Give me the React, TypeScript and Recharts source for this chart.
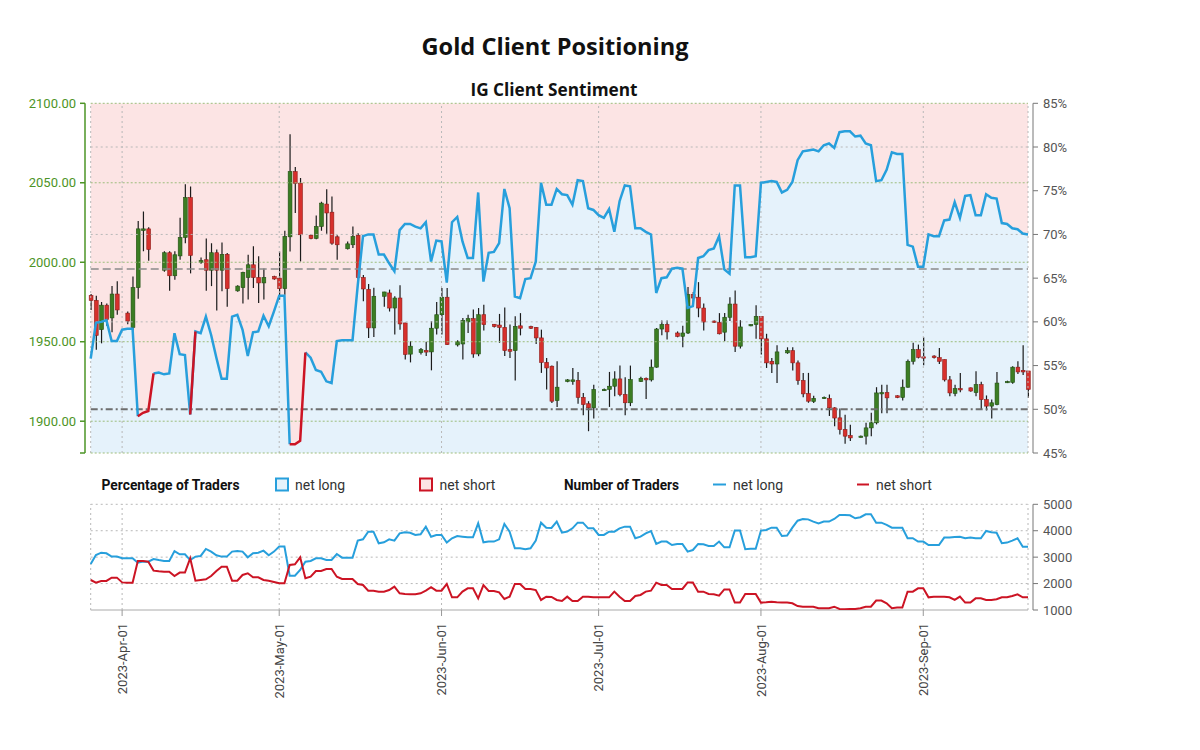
import React from 'react';
import { ComposedChart, Bar, Line, Area, XAxis, YAxis, ReferenceLine } from 'recharts';

// ---------- data (one entry per calendar day, 2023-03-26 .. 2023-09-21) ----------
const OPEN: (number | null)[] = [
  1979, 1976, 1957.6, 1973, 1965, 1980, null,
  1968, 1959, 1984, 2020, 2021, null, null,
  1995, 2006, 1991.5, 2004, 2015.6, 2040.7, null,
  2000, 2001.6, 1995, 2006, 1995, 2005, null,
  1982, 1984, 1990.4, 1998.4, 1990.4, 1987, null,
  1991, 1990, 1983.4, 2016, 2057, 2049.7, null,
  2017, 2015, 2022.5, 2036.6, 2031.5, 2016, null,
  2008.5, 2011, 2017, 1990.4, 1983, 1958.7, null,
  1978.6, 1980.7, 1971.2, 1977.5, 1961.8, 1942.2, null,
  1943.2, 1944.5, 1943.6, 1958.5, 1967, 1978, null,
  1948, 1948.6, 1962.5, 1964.5, 1942.3, 1967, null,
  1961, 1960.5, 1959, 1945, 1944.4, 1960, null,
  1959.5, 1959, 1952.4, 1937, 1934.6, 1913, null,
  1925, 1925, 1925.6, 1915, 1911, 1908.4, null,
  1919.5, 1920, 1922, 1926.6, 1916.8, 1911.6, null,
  1925, 1927, 1926, 1934, 1958, 1960.8, null,
  1955.5, 1953.4, 1955.5, 1979.6, 1978, 1971.2, null,
  1963, 1962.2, 1956, 1965.4, 1973.7, 1947.2, null,
  1960, 1960.8, 1966, 1951.8, 1937.7, 1936, null,
  1943, 1944.4, 1936.7, 1925.6, 1917.4, 1912.4, null,
  1914.5, 1914.3, 1908.4, 1902.1, 1894.8, 1891, null,
  1890, 1890.6, 1895.8, 1899, 1917.5, 1918, null,
  1916, 1914.9, 1921.4, 1937.7, 1945, 1940.5, null,
  1941, 1940, 1938.8, 1926, 1917.5, 1920.5, null,
  1921, 1918, 1923, 1913.6, 1909.5, 1910.5, null,
  1924.5, 1924.4, 1934, 1932, 1931.6,
];
const HIGH: (number | null)[] = [
  1980, 1979, 1975, 1974, 1985, 1988, null,
  1969, 1991, 2026, 2032, 2022, null, null,
  2007, 2007, 2007, 2028, 2049, 2047.7, null,
  2003, 2015, 2012, 2008, 2012.5, 2005.8, null,
  1985.5, 1994, 2004.7, 2010, 2003.7, 1996, null,
  1991.5, 2006.8, 2019.8, 2080.5, 2060, 2053, null,
  2017.5, 2029.4, 2038, 2046, 2041.4, 2017, null,
  2013, 2022.5, 2018.3, 1992, 1986.3, 1984, null,
  1981.5, 1982.8, 1978.6, 1985.5, 1962, 1950.3, null,
  1946, 1950, 1963, 1975, 1983.8, 1983.8, null,
  1951, 1965, 1967, 1970.2, 1971.2, 1973.3, null,
  1961.2, 1967.5, 1971.6, 1960.8, 1966, 1968, null,
  1960, 1959.3, 1957.6, 1939.8, 1935, 1937.7, null,
  1926.5, 1933.5, 1931, 1917.8, 1912.6, 1923, null,
  1920.5, 1931, 1931.5, 1935, 1927.7, 1935, null,
  1928, 1927.5, 1938.8, 1958.7, 1963.3, 1963.3, null,
  1956.5, 1960, 1984.4, 1981.3, 1987.5, 1974, null,
  1963.3, 1968, 1968, 1978, 1982.3, 1963.5, null,
  1961, 1973, 1966, 1955, 1939.8, 1947.8, null,
  1946.5, 1946.5, 1938.2, 1930.4, 1930.4, 1916, null,
  1915.5, 1916.8, 1908.8, 1908, 1904, 1897.7, null,
  1891, 1899, 1905.3, 1921.4, 1923, 1923, null,
  1916.3, 1926.2, 1938.8, 1949.3, 1948.2, 1952.8, null,
  1941.5, 1946, 1938.8, 1928.5, 1923, 1930.4, null,
  1921.2, 1931.4, 1924.8, 1916.2, 1913.6, 1931, null,
  1925.5, 1934.6, 1937.7, 1947.8, 1931.6,
];
const LOW: (number | null)[] = [
  1970, 1945, 1949, 1960, 1956, 1967, null,
  1961, 1957, 1977, 2007, 2001, null, null,
  1994, 1982, 1989, 2001.6, 2012, 1993, null,
  1999, 1982, 1985, 1969.6, 1981.7, 1972, null,
  1981.5, 1974, 1976.5, 1983.8, 1974.4, 1976.5, null,
  1989, 1976.5, 1979.5, 2006.8, 2031, 2000.5, null,
  2014.5, 2014.5, 2019.8, 2018, 2011, 2001.6, null,
  2008, 2009, 1989.3, 1975.4, 1952.4, 1953, null,
  1972, 1969, 1954.5, 1957.6, 1938.8, 1937, null,
  1942, 1941, 1932, 1954.5, 1954.5, 1948, null,
  1947, 1938.8, 1955.5, 1940, 1940.9, 1957, null,
  1959, 1949.3, 1941, 1939.8, 1925.6, 1954, null,
  1958, 1948.6, 1930.4, 1920, 1911.5, 1909, null,
  1924.5, 1923, 1911, 1903.8, 1893.7, 1901.7, null,
  1919, 1909, 1915.7, 1915.7, 1903.8, 1909.5, null,
  1924.6, 1914, 1925, 1933.6, 1954, 1951.4, null,
  1952.8, 1946.5, 1954.8, 1972.3, 1965.4, 1957, null,
  1962, 1954.6, 1950.3, 1963, 1943.6, 1945.8, null,
  1959.7, 1951.8, 1942, 1933.5, 1930.4, 1924, null,
  1942.4, 1931.9, 1923, 1915, 1911.6, 1911.5, null,
  1914, 1903.3, 1896.9, 1891.7, 1885.8, 1887.5, null,
  1889.7, 1885.4, 1890.6, 1898, 1905, 1905, null,
  1914.5, 1913, 1921, 1935.6, 1939.5, 1935.2, null,
  1939.5, 1936, 1925, 1915.7, 1915.7, 1918.2, null,
  1918.5, 1915.7, 1907.4, 1906.8, 1901.7, 1910, null,
  1924, 1923.6, 1929.7, 1929, 1914.7,
];
const CLOSE: (number | null)[] = [
  1976, 1954, 1973, 1964, 1980, 1970, null,
  1963, 1984, 2021, 2021, 2008, null, null,
  2006, 1991.5, 2004.7, 2015.6, 2040.7, 2004.3, null,
  2001, 1995, 2006, 1995, 2005, 1983.4, null,
  1985, 1993.6, 1998.4, 1990.4, 1987, 1990.4, null,
  1989.5, 1983.4, 2016.2, 2057, 2049.7, 2017.3, null,
  2015, 2022.5, 2037.2, 2031, 2012, 2011, null,
  2011.6, 2016.2, 1990.4, 1983.2, 1958.7, 1978.6, null,
  1981.3, 1971.2, 1977.5, 1961.2, 1942, 1947.2, null,
  1945, 1943.5, 1958.5, 1967, 1978, 1948.2, null,
  1950, 1963.3, 1964.5, 1942.3, 1967, 1960.8, null,
  1959.5, 1959, 1944.4, 1944, 1959.7, 1958.5, null,
  1958.5, 1952.4, 1937, 1933.5, 1912.6, 1921.4, null,
  1926, 1926, 1915, 1910.5, 1908.4, 1920, null,
  1920, 1922, 1926.6, 1916.8, 1911.6, 1926.2, null,
  1927, 1926, 1934, 1958, 1960.8, 1956.2, null,
  1953.4, 1955.5, 1979.6, 1977.5, 1971.2, 1962.4, null,
  1962.3, 1955, 1965.4, 1973.7, 1947.2, 1959.3, null,
  1960.8, 1966, 1951.8, 1936.7, 1936, 1943.6, null,
  1944.5, 1936.7, 1925.6, 1917.2, 1912.6, 1914.4, null,
  1915, 1908.4, 1902, 1894.8, 1890.6, 1889.5, null,
  1890.6, 1895.8, 1899, 1917.8, 1918, 1914.7, null,
  1914.9, 1921.4, 1937.7, 1945, 1940.2, 1940.3, null,
  1940, 1937.7, 1926, 1917.8, 1920.5, 1919.7, null,
  1919, 1923, 1913.6, 1909.5, 1911.6, 1924, null,
  1925, 1934, 1931, 1931, 1920,
];
// percentage of traders net long
const PCT: number[] = [
  55.8, 59.9, 60.0, 60.2, 57.8, 57.8, 59.1,
  59.2, 59.2, 49.2, 49.6, 49.8, 54.1, 54.2,
  54.0, 54.1, 58.7, 56.3, 56.2, 49.4, 58.9,
  58.7, 60.6, 58.5, 55.9, 53.5, 53.5, 60.6,
  60.8, 59.1, 56.1, 58.8, 58.9, 60.7, 59.5,
  61.2, 63.0, 63.0, 46.0, 46.0, 46.4, 56.5,
  55.9, 54.5, 54.3, 53.2, 53.0, 57.8, 57.9,
  57.9, 57.9, 64.2, 69.8, 70.0, 70.0, 67.7,
  67.7, 66.7, 65.8, 70.5, 71.2, 71.2, 70.9,
  70.7, 71.4, 66.9, 69.3, 69.2, 64.5, 71.4,
  72.0, 69.2, 67.3, 67.3, 74.8, 64.6, 67.9,
  68.0, 69.0, 75.2, 73.0, 62.9, 62.7, 64.9,
  65.0, 66.9, 75.9, 73.4, 73.4, 75.2, 74.6,
  74.5, 73.4, 76.2, 76.1, 73.0, 72.8, 72.2,
  71.9, 72.9, 70.3, 73.8, 75.6, 75.5, 70.7,
  70.7, 70.3, 70.0, 63.3, 65.0, 65.1, 66.1,
  66.2, 66.1, 61.6, 61.8, 67.3, 67.5, 68.2,
  68.4, 69.8, 66.0, 65.5, 75.6, 75.6, 67.4,
  67.4, 67.5, 75.9, 76.0, 76.1, 76.0, 74.8,
  75.1, 76.0, 78.5, 79.5, 79.6, 79.7, 79.5,
  80.2, 80.4, 79.9, 81.7, 81.8, 81.8, 81.2,
  81.3, 80.4, 80.2, 76.1, 76.2, 77.4, 79.4,
  79.2, 79.2, 68.8, 68.6, 66.3, 66.3, 70.0,
  69.8, 69.8, 71.6, 71.7, 73.7, 71.9, 74.4,
  74.5, 72.2, 72.2, 74.6, 74.2, 74.1, 71.3,
  71.2, 70.7, 70.6, 70.1, 70.0,
];
const NUM_LONG: number[] = [
  2740, 3080, 3170, 3145, 3020, 3020, 2960,
  2960, 2960, 2790, 2830, 2830, 2930, 2890,
  2855, 2855, 3230, 3110, 3110, 2890, 3020,
  3045, 3310, 3210, 3070, 3020, 3020, 3210,
  3230, 3210, 2995, 3145, 3170, 3245, 3070,
  3210, 3400, 3400, 2300, 2300, 2515, 2830,
  2855, 2955, 2955, 2895, 2895, 3120, 2980,
  2980, 2980, 3625, 3675, 3965, 3965, 3525,
  3560, 3675, 3625, 3900, 3940, 3925, 3840,
  3865, 4155, 3775, 3840, 3840, 3550, 3715,
  3800, 3775, 3750, 3750, 4280, 3560, 3590,
  3590, 3675, 4255, 3965, 3335, 3335, 3300,
  3335, 3625, 4305, 4115, 4105, 4345, 3930,
  3965, 4090, 4305, 4305, 4090, 4090, 3840,
  3840, 3965, 3965, 4090, 4155, 4155, 3715,
  3775, 3900, 3990, 3500, 3590, 3590, 3460,
  3500, 3500, 3210, 3270, 3500, 3485, 3425,
  3425, 3590, 3370, 3370, 4005, 4005, 3300,
  3320, 3320, 4005, 4030, 4115, 4115, 3800,
  3815, 4115, 4380, 4445, 4430, 4345, 4280,
  4345, 4345, 4445, 4595, 4595, 4585, 4470,
  4510, 4620, 4620, 4305, 4305, 4220, 4115,
  4115, 4115, 3715, 3715, 3590, 3590, 3460,
  3460, 3460, 3740, 3740, 3765, 3775, 3715,
  3740, 3715, 3715, 3990, 3940, 3925, 3525,
  3550, 3625, 3715, 3395, 3395,
];
const NUM_SHORT: number[] = [
  2135, 2035, 2100, 2100, 2225, 2225, 2045,
  2035, 2035, 2855, 2855, 2830, 2490, 2465,
  2450, 2450, 2285, 2415, 2415, 2955, 2110,
  2135, 2160, 2285, 2475, 2640, 2640, 2110,
  2110, 2325, 2390, 2235, 2235, 2135, 2110,
  2060, 2010, 2010, 2705, 2730, 2995, 2200,
  2260, 2475, 2475, 2550, 2550, 2260, 2175,
  2175, 2175, 1985, 1945, 1730, 1730, 1695,
  1695, 1755, 1885, 1630, 1605, 1595, 1595,
  1630, 1730, 1860, 1730, 1730, 1985, 1480,
  1480, 1695, 1820, 1820, 1440, 1945, 1720,
  1720, 1670, 1415, 1505, 1985, 1985, 1795,
  1795, 1755, 1380, 1505, 1495, 1380, 1340,
  1505, 1340, 1340, 1505, 1505, 1480, 1480,
  1480, 1480, 1695, 1505, 1340, 1340, 1530,
  1570, 1695, 1730, 2035, 1945, 1945, 1795,
  1795, 1795, 2045, 2045, 1695, 1695, 1605,
  1595, 1545, 1780, 1780, 1280, 1280, 1605,
  1605, 1605, 1280, 1290, 1315, 1290, 1280,
  1280, 1255, 1150, 1125, 1125, 1125, 1065,
  1065, 1065, 1125, 1040, 1025, 1040, 1040,
  1065, 1125, 1125, 1355, 1355, 1255, 1065,
  1090, 1090, 1695, 1695, 1820, 1820, 1480,
  1505, 1505, 1505, 1480, 1380, 1505, 1280,
  1280, 1440, 1440, 1380, 1380, 1405, 1480,
  1480, 1530, 1595, 1480, 1480,
];
const TICK_DAYS = [6, 36, 67, 97, 128, 159];
const TICK_LABELS = ['2023-Apr-01', '2023-May-01', '2023-Jun-01', '2023-Jul-01', '2023-Aug-01', '2023-Sep-01'];
const PRICE_TICKS = [1880, 1900, 1950, 2000, 2050, 2100];
const PRICE_GRID = [1900, 1950, 2000, 2050];
const PCT_TICKS = [45, 50, 55, 60, 65, 70, 75, 80, 85];
const PCT_GRID = [60, 70, 80];
const NUM_TICKS = [1000, 2000, 3000, 4000, 5000];
const NUM_GRID = [2000, 3000, 4000, 5000];
const PRICE_MIN = 1880, PRICE_MAX = 2100;
const PCT_MIN = 45, PCT_MAX = 85;
const NUM_MIN = 1000, NUM_MAX = 5000;
const SENTIMENT_NEUTRAL = 50;
const SENTIMENT_REF = 66.05;

// ---------- layout ----------
const LAST = PCT.length - 1;
const PLOT_L = 85, PLOT_R = 1033, DATA_L = 90.7, DATA_R = 1028;
const PX_PER_DAY = (DATA_R - DATA_L) / LAST;
const X_MIN = -(DATA_L - PLOT_L) / PX_PER_DAY;
const X_MAX = LAST + (PLOT_R - DATA_R) / PX_PER_DAY;

const BLUE = '#279fdc';
const RED = '#cc1424';
const PINK_BG = '#fce4e4';
const BLUE_BG = '#e5f2fb';
const GREEN_AXIS = '#4d9426';
const GREEN_GRID = '#9dbd7c';
const GREY_GRID = '#b8b8b8';
const C_UP = '#3b7d23', C_UP_EDGE = '#224f12';
const C_DN = '#d7302c', C_DN_EDGE = '#8e1b18';

const DATA = PCT.map((p, i) => ({
  day: i,
  open: OPEN[i],
  high: HIGH[i],
  low: LOW[i],
  close: CLOSE[i],
  range: HIGH[i] == null ? null : [LOW[i], HIGH[i]],
  pct: p,
  pctBand: [p, PCT_MAX],
  pctLong: p >= SENTIMENT_NEUTRAL || (i > 0 && PCT[i - 1] >= SENTIMENT_NEUTRAL) ? p : null,
  pctShort: p < SENTIMENT_NEUTRAL || (i > 0 && PCT[i - 1] < SENTIMENT_NEUTRAL) ? p : null,
  numLong: NUM_LONG[i],
  numShort: NUM_SHORT[i],
}));

const Candle = (props: any) => {
  const { x, y, width, height, payload } = props;
  if (!payload || payload.high == null || x == null || y == null) return null;
  const { open, close, high, low } = payload;
  const top = Math.min(y, y + height);
  const h = Math.abs(height);
  const span = high - low;
  const py = (v: number) => (span > 0 ? top + ((high - v) / span) * h : top);
  const cx = x + width / 2;
  const up = close >= open;
  const bTop = py(Math.max(open, close));
  const bBot = py(Math.min(open, close));
  const bh = Math.max(bBot - bTop, 1.3);
  return (
    <g>
      <line x1={cx} x2={cx} y1={top} y2={top + h} stroke="#1b1b1b" strokeWidth={1.2} />
      <rect x={cx - 1.9} y={bTop} width={3.8} height={bh} fill={up ? C_UP : C_DN} stroke={up ? C_UP_EDGE : C_DN_EDGE} strokeWidth={0.6} />
    </g>
  );
};

const MonthTick = (props: any) => {
  const { x, y, payload } = props;
  const idx = TICK_DAYS.indexOf(payload.value);
  return (
    <text x={0} y={0} dy="0.35em" textAnchor="end" fill="#444" fontSize={13} transform={`translate(${x},${y + 5}) rotate(-90)`}>
      {TICK_LABELS[idx]}
    </text>
  );
};

const hSeg = (axis: string, v: number, stroke: string, dash: string, key: string, width = 1) => (
  <ReferenceLine key={key} yAxisId={axis} segment={[{ x: 0, y: v }, { x: LAST, y: v }]} stroke={stroke} strokeDasharray={dash} strokeWidth={width} ifOverflow="visible" />
);
const vLine = (axis: string, d: number, key: string) => (
  <ReferenceLine key={key} yAxisId={axis} x={d} stroke={GREY_GRID} strokeDasharray="2 3" ifOverflow="visible" />
);

export default function App() {
  return (
    <div style={{ position: 'absolute', left: 0, top: 0, width: 1200, height: 750, fontFamily: 'Roboto, sans-serif', background: '#fff' }}>
      <div style={{ position: 'absolute', left: 0, top: 0 }}>
        <ComposedChart width={1200} height={470} data={DATA} margin={{ top: 103.3, right: 107, bottom: 17, left: 25 }}>
          <XAxis dataKey="day" type="number" domain={[X_MIN, X_MAX]} allowDataOverflow hide />
          <YAxis
            yAxisId="price"
            domain={[PRICE_MIN, PRICE_MAX]}
            ticks={PRICE_TICKS}
            interval={0}
            allowDataOverflow
            width={60}
            tickFormatter={(v: number) => (v === PRICE_MIN ? '' : v.toFixed(2))}
            axisLine={{ stroke: GREEN_AXIS, strokeWidth: 1.5 }}
            tickLine={{ stroke: GREEN_AXIS, strokeWidth: 1.5 }}
            tickSize={5}
            tickMargin={4}
            tick={{ fill: GREEN_AXIS, fontSize: 13 }}
          />
          <YAxis
            yAxisId="pct"
            orientation="right"
            domain={[PCT_MIN, PCT_MAX]}
            ticks={PCT_TICKS}
            interval={0}
            allowDataOverflow
            width={60}
            tickFormatter={(v: number) => `${v}%`}
            axisLine={{ stroke: '#777' }}
            tickLine={{ stroke: '#777' }}
            tickSize={5}
            tickMargin={5}
            tick={{ fill: '#555', fontSize: 13 }}
          />
          <Area yAxisId="pct" dataKey="pctBand" stroke="none" fill={PINK_BG} fillOpacity={1} isAnimationActive={false} />
          <Area yAxisId="pct" dataKey="pct" stroke="none" fill={BLUE_BG} fillOpacity={1} isAnimationActive={false} />
          {TICK_DAYS.map((d) => vLine('price', d, `v${d}`))}
          {vLine('price', 0, 'vl')}
          {vLine('price', LAST, 'vr')}
          {PCT_GRID.map((v) => hSeg('pct', v, GREY_GRID, '2 3', `pg${v}`))}
          {PRICE_GRID.map((v) => hSeg('price', v, GREEN_GRID, '2 2', `gg${v}`))}
          {hSeg('price', PRICE_MAX, GREEN_GRID, '2 2', 'gtop')}
          {hSeg('price', PRICE_MIN, GREEN_GRID, '2 2', 'gbot')}
          {hSeg('pct', SENTIMENT_REF, '#8a8a8a', '8 4', 'ref66', 1.4)}
          {hSeg('pct', SENTIMENT_NEUTRAL, '#6e6e6e', '7 3 2 3', 'ref50', 2)}
          <Line yAxisId="pct" dataKey="pctLong" stroke={BLUE} strokeWidth={2.5} dot={false} connectNulls={false} isAnimationActive={false} />
          <Line yAxisId="pct" dataKey="pctShort" stroke={RED} strokeWidth={2.5} dot={false} connectNulls={false} isAnimationActive={false} />
          <Bar yAxisId="price" dataKey="range" barSize={4} shape={(p: any) => <Candle {...p} />} isAnimationActive={false} />
        </ComposedChart>
      </div>

      <div style={{ position: 'absolute', left: 0, top: 470 }}>
        <ComposedChart width={1200} height={260} data={DATA} margin={{ top: 34.3, right: 107, bottom: 20, left: 85 }}>
          <XAxis
            dataKey="day"
            type="number"
            domain={[X_MIN, X_MAX]}
            allowDataOverflow
            ticks={TICK_DAYS}
            interval={0}
            height={100}
            axisLine={false}
            tickLine={{ stroke: '#999' }}
            tickSize={6}
            tick={(p: any) => <MonthTick {...p} />}
          />
          <YAxis
            yAxisId="num"
            orientation="right"
            domain={[NUM_MIN, NUM_MAX]}
            ticks={NUM_TICKS}
            interval={0}
            allowDataOverflow
            width={60}
            axisLine={{ stroke: '#777' }}
            tickLine={{ stroke: '#777' }}
            tickSize={5}
            tickMargin={5}
            tick={{ fill: '#555', fontSize: 13 }}
          />
          {TICK_DAYS.map((d) => vLine('num', d, `bv${d}`))}
          {vLine('num', 0, 'bvl')}
          {vLine('num', LAST, 'bvr')}
          {NUM_GRID.map((v) => hSeg('num', v, GREY_GRID, '2 3', `ng${v}`))}
          {hSeg('num', NUM_MIN, '#aaaaaa', '', 'nbot')}
          <Line yAxisId="num" dataKey="numLong" stroke={BLUE} strokeWidth={2} dot={false} isAnimationActive={false} />
          <Line yAxisId="num" dataKey="numShort" stroke={RED} strokeWidth={2} dot={false} isAnimationActive={false} />
        </ComposedChart>
      </div>

      <svg width={1200} height={750} style={{ position: 'absolute', left: 0, top: 0, pointerEvents: 'none' }}>
        <text x={555} y={55} textAnchor="middle" fontFamily="'Open Sans', 'Noto Sans', sans-serif" fontWeight={700} fontSize={24} fill="#111" textLength={267} lengthAdjust="spacingAndGlyphs">
          Gold Client Positioning
        </text>
        <text x={554} y={96} textAnchor="middle" fontFamily="'Open Sans', 'Noto Sans', sans-serif" fontWeight={700} fontSize={18} fill="#111" textLength={167} lengthAdjust="spacingAndGlyphs">
          IG Client Sentiment
        </text>
        <g fontFamily="Roboto, sans-serif">
          <text x={101.5} y={490} fontWeight={700} fontSize={14} fill="#111" textLength={138} lengthAdjust="spacingAndGlyphs">Percentage of Traders</text>
          <rect x={276} y={478.5} width={12} height={12} fill={BLUE_BG} stroke={BLUE} strokeWidth={2} />
          <text x={295} y={490} fontSize={14} fill="#333">net long</text>
          <rect x={420} y={478.5} width={12} height={12} fill={PINK_BG} stroke={RED} strokeWidth={2} />
          <text x={439.5} y={490} fontSize={14} fill="#333">net short</text>
          <text x={564} y={490} fontWeight={700} fontSize={14} fill="#111" textLength={115} lengthAdjust="spacingAndGlyphs">Number of Traders</text>
          <line x1={713} x2={726} y1={484.5} y2={484.5} stroke={BLUE} strokeWidth={2} />
          <text x={733} y={490} fontSize={14} fill="#333">net long</text>
          <line x1={857} x2={869} y1={484.5} y2={484.5} stroke={RED} strokeWidth={2} />
          <text x={876} y={490} fontSize={14} fill="#333">net short</text>
        </g>
      </svg>
    </div>
  );
}
